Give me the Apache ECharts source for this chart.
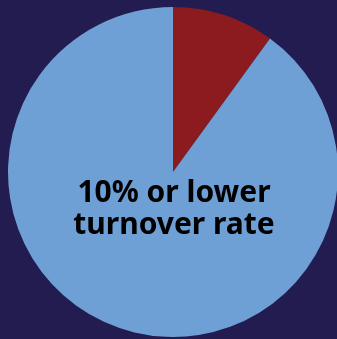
<!DOCTYPE html>
<html><head><meta charset="utf-8">
<script src="https://cdn.jsdelivr.net/npm/echarts@6/dist/echarts.min.js"></script>
<style>html,body{margin:0;padding:0;background:#221c50;}#c{width:337px;height:339px;}</style>
</head><body><div id="c"></div>
<script>
const categories = ['Higher turnover rate', '10% or lower turnover rate'];
const values = [10, 90];
const colors = ['#8c1b1f', '#6ea0d6'];
const centerLabel = '10% or lower\nturnover rate';

const chart = echarts.init(document.getElementById('c'), null, {renderer: 'canvas'});
chart.setOption({
  backgroundColor: '#221c50',
  animation: false,
  series: [{
    type: 'pie',
    center: [173, 172],
    radius: 165,
    startAngle: 90,
    clockwise: true,
    silent: true,
    label: {show: false},
    labelLine: {show: false},
    itemStyle: {borderWidth: 0},
    data: categories.map((c, i) => ({name: c, value: values[i], itemStyle: {color: colors[i]}}))
  }],
  graphic: [{
    type: 'text',
    z: 100,
    x: 174,
    y: 209,
    style: {
      text: centerLabel,
      fill: '#000000',
      fontSize: 30,
      fontWeight: 'bold',
      fontFamily: 'Noto Sans',
      align: 'center',
      verticalAlign: 'middle',
      lineHeight: 32
    }
  }]
});
</script></body></html>
